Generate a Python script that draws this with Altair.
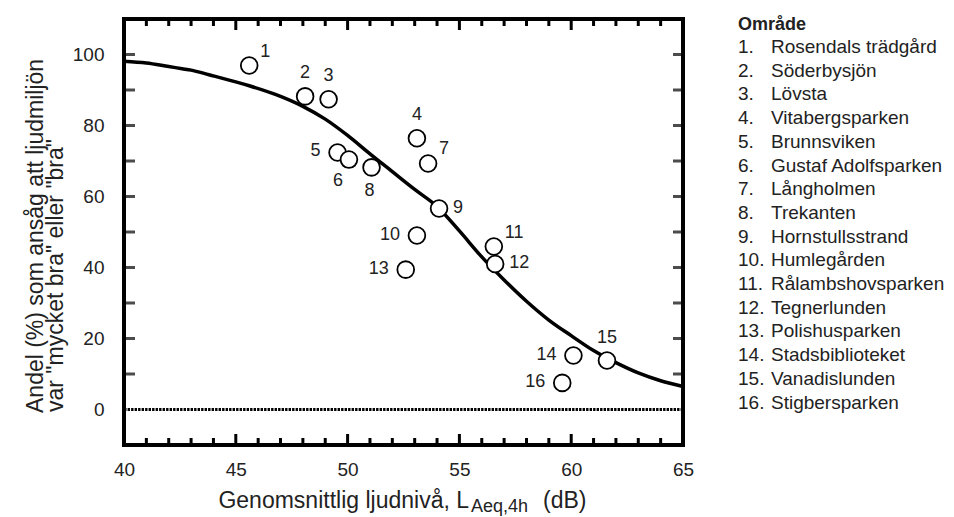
import altair as alt
import pandas as pd

# ---------------- data ----------------
curve_x = [40, 41, 42, 42.6, 43, 43.8, 45, 45.6, 46.8, 48, 49, 50, 51, 52, 53, 54,
           55, 56, 57, 58, 59, 60, 61, 62, 63, 64, 65]
curve_y = [98.1, 97.6, 96.6, 96.0, 95.6, 94.3, 92.3, 91.2, 88.7, 85.4, 81.8, 77.2,
           72.0, 67.0, 62.0, 57.2, 50.3, 43.0, 36.5, 30.5, 25.2, 20.8, 16.6, 13.2,
           10.3, 8.1, 6.5]

pt_id = [str(i) for i in range(1, 17)]
pt_x = [45.6, 48.1, 49.15, 53.1, 49.55, 50.06, 53.6, 51.07, 54.09, 53.1, 56.54,
        56.6, 52.6, 60.1, 61.6, 59.6]
pt_y = [96.9, 88.2, 87.4, 76.4, 72.4, 70.4, 69.3, 68.2, 56.6, 49.0, 45.9, 41.0,
        39.4, 15.2, 13.8, 7.5]
pt_side = ["upright", "above", "above", "above", "left", "belowleft", "upright",
           "below", "right", "left", "upright", "right", "left", "left", "above",
           "left"]

area_names = ["Rosendals trädgård", "Söderbysjön", "Lövsta", "Vitabergsparken",
              "Brunnsviken", "Gustaf Adolfsparken", "Långholmen", "Trekanten",
              "Hornstullsstrand", "Humlegården", "Rålambshovsparken", "Tegnerlunden",
              "Polishusparken", "Stadsbiblioteket", "Vanadislunden", "Stigbersparken"]
legend_title = "Område"

x_labels = [40, 45, 50, 55, 60, 65]
y_labels = [0, 20, 40, 60, 80, 100]
x_major_ticks = [45.0, 50.0, 55.0, 60.0]
x_minor_ticks = [float(v) for v in range(41, 65) if v % 5 != 0]
y_ticks = [10.0, 20.0, 30.0, 40.0, 50.0, 60.0, 70.0, 80.0, 90.0, 100.0]
zero_level = [0.0]

y_title_1 = "Andel (%) som ansåg att ljudmiljön"
y_title_2 = 'var "mycket bra" eller "bra"'
x_title_main = "Genomsnittlig ljudnivå, L"
x_title_sub = "Aeq,4h"
x_title_unit = "(dB)"

# ---------------- styling ----------------
FONT = "Liberation Sans"
TXT = "#222222"
W, H = 559, 426

xscale = alt.Scale(domain=[40, 65], nice=False, zero=False)
yscale = alt.Scale(domain=[-10, 110], nice=False, zero=False)
xaxis = alt.Axis(values=x_labels, ticks=False, domain=False, grid=False,
                 labelFontSize=19, labelFont=FONT, labelColor=TXT, labelPadding=15,
                 labelFlush=False, labelOverlap=False, format="d", title=None)
yaxis = alt.Axis(values=y_labels, ticks=False, domain=False, grid=False,
                 labelFontSize=19, labelFont=FONT, labelColor=TXT, labelPadding=20,
                 labelFlush=False, labelOverlap=False, format="d", title=None)


def X(f="x"):
    return alt.X(f"{f}:Q", scale=xscale, axis=xaxis, title=None)


def Y(f="y"):
    return alt.Y(f"{f}:Q", scale=yscale, axis=yaxis, title=None)


curve_df = pd.DataFrame({"x": curve_x, "y": curve_y})
pts_df = pd.DataFrame({"x": pt_x, "y": pt_y, "id": pt_id, "side": pt_side})

# inward ticks
xmin_df = pd.DataFrame({"x": x_minor_ticks})
xmaj_df = pd.DataFrame({"x": x_major_ticks})
yt_df = pd.DataFrame({"y": y_ticks})
tick_layers = [
    alt.Chart(xmin_df).mark_rule(color="black", strokeWidth=3).encode(
        x=X(), y=alt.value(H), y2=alt.value(H - 7)),
    alt.Chart(xmaj_df).mark_rule(color="black", strokeWidth=3).encode(
        x=X(), y=alt.value(H), y2=alt.value(H - 11)),
    alt.Chart(xmin_df).mark_rule(color="black", strokeWidth=3).encode(
        x=X(), y=alt.value(0), y2=alt.value(7)),
    alt.Chart(xmaj_df).mark_rule(color="black", strokeWidth=3).encode(
        x=X(), y=alt.value(0), y2=alt.value(11)),
    alt.Chart(yt_df).mark_tick(color="black", orient="horizontal", size=11,
                               thickness=3).encode(y=Y(), x=alt.value(5.5)),
    alt.Chart(yt_df).mark_tick(color="black", orient="horizontal", size=10,
                               thickness=3).encode(y=Y(), x=alt.value(W - 5)),
]

zero = alt.Chart(pd.DataFrame({"y": zero_level})).mark_rule(
    color="black", strokeWidth=3.2, strokeDash=[2.4, 1.1]).encode(y=Y())

curve = alt.Chart(curve_df).mark_line(
    color="#000", strokeWidth=3.5, interpolate="monotone").encode(x=X(), y=Y())

points = alt.Chart(pts_df).mark_point(
    shape="circle", filled=True, fill="white", stroke="black", strokeWidth=1.8,
    size=280, opacity=1).encode(x=X(), y=Y())

label_styles = {
    "above": dict(align="center", dx=0, dy=-23),
    "upright": dict(align="left", dx=11, dy=-14),
    "right": dict(align="left", dx=14, dy=-1),
    "left": dict(align="right", dx=-17, dy=-1),
    "belowleft": dict(align="center", dx=-11, dy=21),
    "below": dict(align="center", dx=-2, dy=24),
}
label_layers = []
for side, st in label_styles.items():
    label_layers.append(
        alt.Chart(pts_df).transform_filter(alt.datum.side == side).mark_text(
            baseline="middle", fontSize=18, font=FONT, color=TXT, **st
        ).encode(x=X(), y=Y(), text="id:N")
    )


def text_layer(txt, x, y, size, angle=0, align="left", baseline="alphabetic",
               weight="normal"):
    return alt.Chart(pd.DataFrame({"t": [txt]})).mark_text(
        align=align, baseline=baseline, angle=angle, fontSize=size, font=FONT,
        fontWeight=weight, color=TXT).encode(x=alt.value(x), y=alt.value(y),
                                             text="t:N")


titles = [
    text_layer(y_title_1, -81, 394, 23, angle=270),
    text_layer(y_title_2, -61, 393, 23, angle=270),
    text_layer(x_title_main, 345, 489, 23, align="right"),
    text_layer(x_title_sub, 347, 493, 18),
    text_layer(x_title_unit, 419, 489, 23),
    text_layer(legend_title, 614, 6, 18, baseline="middle", weight="bold"),
]

legend_layers = []
for i, name in enumerate(area_names):
    legend_layers.append(text_layer(f"{i + 1}.", 614, 28 + 23.7 * i, 19,
                                    baseline="middle"))
    legend_layers.append(text_layer(name, 647, 28 + 23.7 * i, 19,
                                    baseline="middle"))

chart = alt.layer(
    *tick_layers, zero, curve, points, *label_layers, *titles, *legend_layers
).properties(
    width=W, height=H,
    autosize=alt.AutoSizeParams(type="pad"),
    padding={"left": 16, "top": 8, "right": 0, "bottom": 0},
).configure_view(stroke="black", strokeWidth=4)

chart.save("out.html", embed_options={"renderer": "svg", "actions": False})
